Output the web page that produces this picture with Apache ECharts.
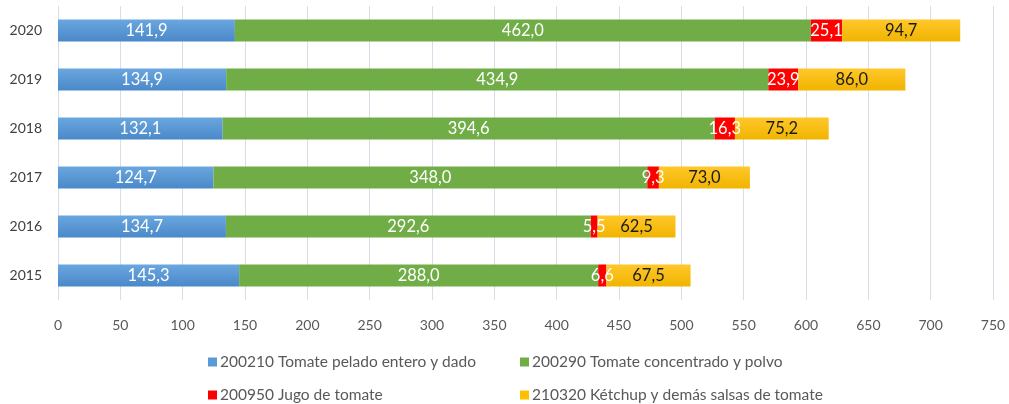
<!DOCTYPE html>
<html>
<head>
<meta charset="utf-8">
<script src="https://cdn.jsdelivr.net/npm/echarts@6/dist/echarts.min.js"></script>
<style>
    html, body { margin: 0; padding: 0; background: #fff; }
    #chart { width: 1009px; height: 404px; }
</style>
</head>
<body>
<div id="chart"></div>
<script>
const years = ['2015', '2016', '2017', '2018', '2019', '2020'];
const seriesNames = [
    '200210 Tomate pelado entero y dado',
    '200290 Tomate concentrado y polvo',
    '200950 Jugo de tomate',
    '210320 Kétchup y demás salsas de tomate'
];
const pelado = [145.3, 134.7, 124.7, 132.1, 134.9, 141.9];
const concentrado = [288.0, 292.6, 348.0, 394.6, 434.9, 462.0];
const jugo = [6.6, 5.5, 9.3, 16.3, 23.9, 25.1];
const ketchup = [67.5, 62.5, 73.0, 75.2, 86.0, 94.7];

const font = 'Lato, "Open Sans", sans-serif';
const fmt = p => p.value.toFixed(1).replace('.', ',');

function grad(top, bottom) {
    return new echarts.graphic.LinearGradient(0, 0, 0, 1, [
        { offset: 0, color: top },
        { offset: 1, color: bottom }
    ]);
}

const colors = [
    grad('#6aa7df', '#4a88c9'),
    '#70ad47',
    '#ff0000',
    grad('#ffc72a', '#f0b400')
];
const legendColors = ['#5b9bd5', '#70ad47', '#ff0000', '#ffc000'];
const labelColors = ['#ffffff', '#ffffff', '#ffffff', '#1a1a1a'];
const values = [pelado, concentrado, jugo, ketchup];

const chart = echarts.init(document.getElementById('chart'));

const legendPos = [
    { left: 203, top: 349 },
    { left: 515, top: 349 },
    { left: 203, top: 382 },
    { left: 515, top: 382 }
];

const option = {
    animation: false,
    grid: { left: 58, right: 16, top: 6, bottom: 104, containLabel: false },
    legend: legendPos.map((pos, i) => ({
        data: [{ name: seriesNames[i], itemStyle: { color: legendColors[i] } }],
        left: pos.left,
        top: pos.top,
        icon: 'rect',
        itemWidth: 9,
        itemHeight: 9,
        itemGap: 0,
        textStyle: { fontFamily: font, fontSize: 15.5, color: '#595959', padding: [0, 0, 0, -2] }
    })),
    xAxis: {
        type: 'value',
        min: 0,
        max: 750,
        interval: 50,
        axisLine: { show: false },
        axisTick: { show: false },
        axisLabel: { color: '#595959', fontFamily: font, fontSize: 14, margin: 18 },
        splitLine: { lineStyle: { color: '#d9dde8', width: 1 } }
    },
    yAxis: {
        type: 'category',
        data: years,
        axisLine: { show: false },
        axisTick: { show: false },
        axisLabel: { color: '#404040', fontFamily: font, fontSize: 14, margin: 16 }
    },
    series: values.map((v, i) => ({
        name: seriesNames[i],
        type: 'bar',
        stack: 'total',
        barWidth: 22,
        data: v,
        itemStyle: { color: colors[i] },
        label: {
            show: true,
            position: 'inside',
            formatter: fmt,
            color: labelColors[i],
            fontFamily: font,
            fontSize: 16.5
        }
    }))
};

chart.setOption(option);
</script>
</body>
</html>
